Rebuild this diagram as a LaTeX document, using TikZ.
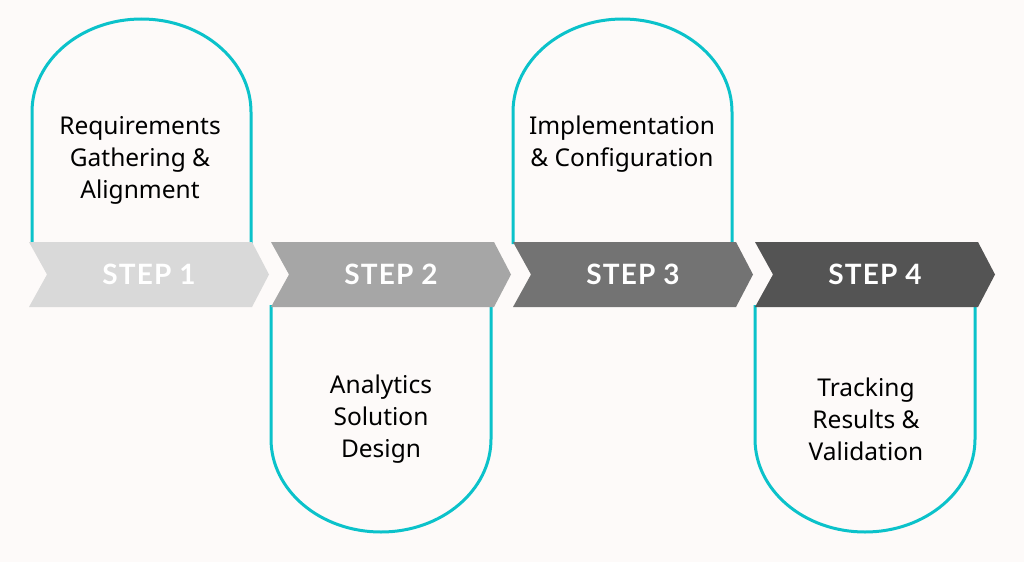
\documentclass[tikz,border=0pt]{standalone}
\usepackage{fontspec}
\setmainfont{Noto Sans}
\newfontfamily\latofont{Lato}[LetterSpace=4]
\definecolor{bgc}{HTML}{FDFAF9}
\definecolor{teal}{HTML}{0BC2CA}
\definecolor{cA}{HTML}{D9D9D9}
\definecolor{cB}{HTML}{A6A6A6}
\definecolor{cC}{HTML}{737373}
\definecolor{cD}{HTML}{545454}
\tikzset{
  arch/.style={draw=teal, line width=3pt, fill=bgc},
  steplabel/.style={text=white, font=\latofont\bfseries\fontsize{28}{30}\selectfont, inner sep=0pt},
  desc/.style={text=black, font=\fontsize{24.5}{32}\selectfont, align=center, inner sep=0pt}
}
\begin{document}
\begin{tikzpicture}[x=1pt,y=-1pt]
\useasboundingbox[fill=bgc] (0,0) rectangle (1024,562);
% top arches
\draw[arch] (32,244) -- (32,112) arc[start angle=180, end angle=360, x radius=109.5, y radius=93] -- (251,244);
\draw[arch] (513,244) -- (513,112) arc[start angle=180, end angle=360, x radius=109.5, y radius=93] -- (732,244);
% bottom arches
\draw[arch] (271,305) -- (271,439) arc[start angle=180, end angle=0, x radius=110, y radius=93] -- (491,305);
\draw[arch] (755,305) -- (755,439) arc[start angle=180, end angle=0, x radius=110, y radius=93] -- (975,305);
% chevrons
\foreach \i/\c in {0/cA,1/cB,2/cC,3/cD}{
  \fill[\c] ({29+242*\i},242) -- ({252+242*\i},242) -- ({269+242*\i},274.5) -- ({252+242*\i},307) -- ({29+242*\i},307) -- ({47+242*\i},274.5) -- cycle;
}
\node[steplabel] (s1) at (149,274) {STEP 1};
\node[steplabel] (s2) at (391,274) {STEP 2};
\node[steplabel] (s3) at (633,274) {STEP 3};
\node[steplabel] (s4) at (875,274) {STEP 4};
\node[desc] (d1) at (140,160) {Requirements\\Gathering \&\\Alignment};
\node[desc] (d3) at (622,144) {Implementation\\\& Configuration};
\node[desc] (d2) at (381,419) {Analytics\\Solution\\Design};
\node[desc] (d4) at (866,419) {Tracking\\Results \&\\Validation};
\end{tikzpicture}
\end{document}
